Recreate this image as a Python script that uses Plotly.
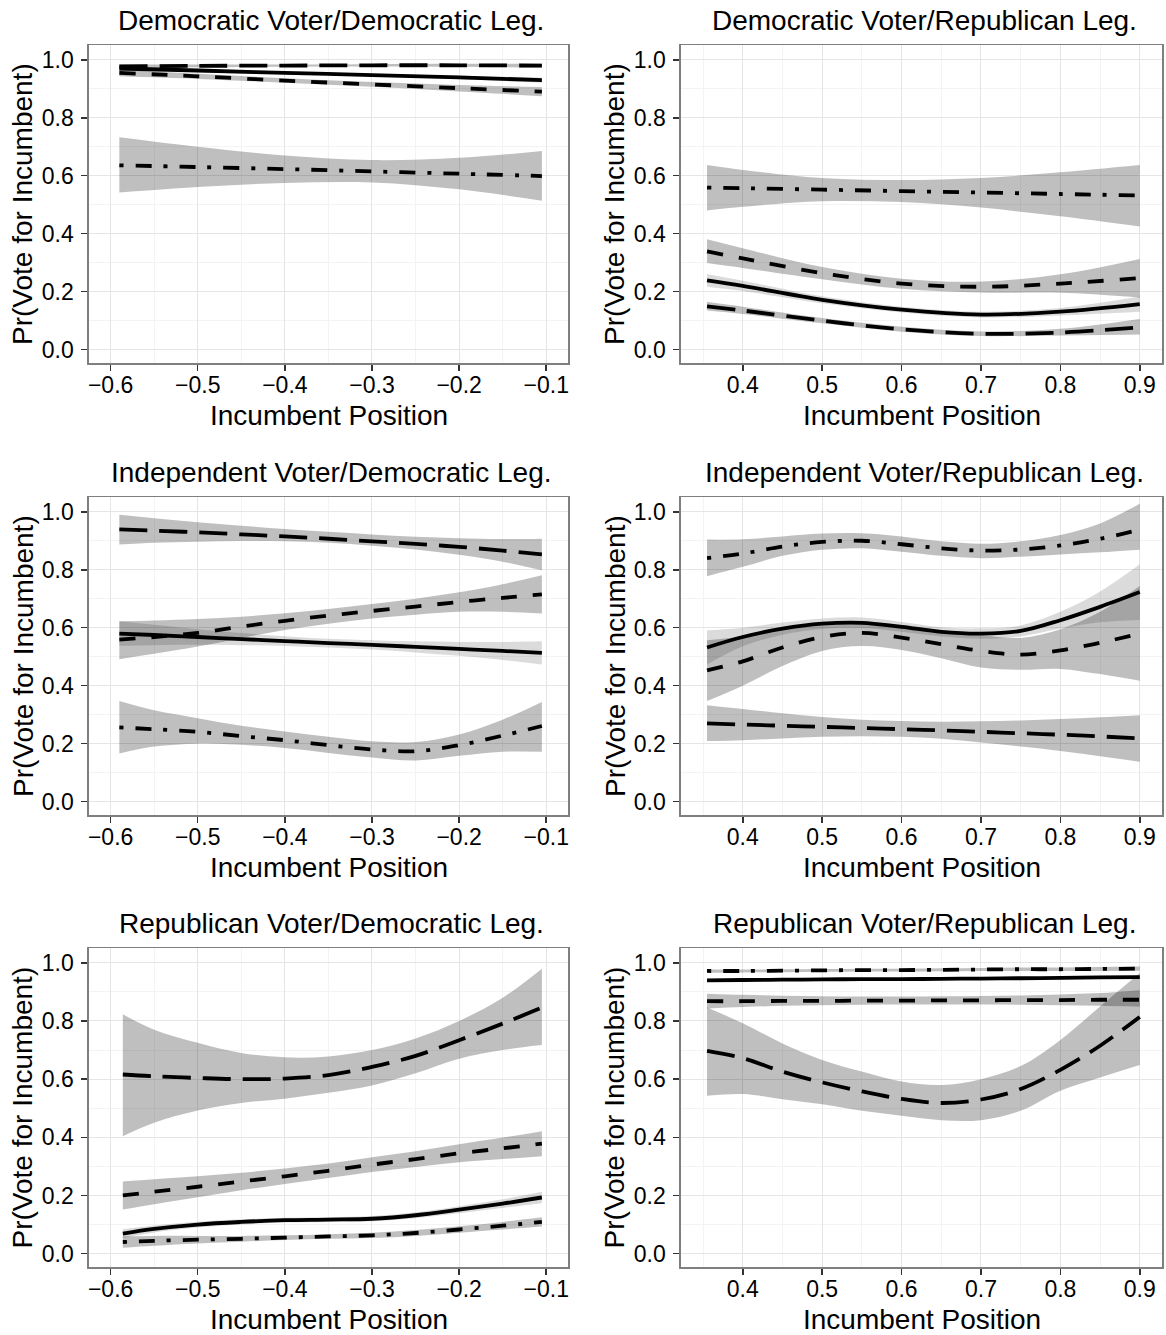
import plotly.graph_objects as go

# ---------------- data ----------------
# Panel 1: Democratic Voter / Democratic Leg.
dd_x = [-0.59, -0.5, -0.4, -0.3, -0.2, -0.105]
dd_solid = [0.970, 0.963, 0.955, 0.947, 0.939, 0.930]
dd_solid_lo = [0.962, 0.957, 0.950, 0.942, 0.933, 0.921]
dd_solid_hi = [0.978, 0.969, 0.960, 0.952, 0.945, 0.939]
dd_dashed = [0.955, 0.943, 0.928, 0.915, 0.902, 0.890]
dd_dashed_lo = [0.943, 0.934, 0.921, 0.907, 0.891, 0.874]
dd_dashed_hi = [0.966, 0.952, 0.936, 0.923, 0.913, 0.906]
dd_long = [0.977, 0.979, 0.980, 0.981, 0.981, 0.980]
dd_long_lo = [0.970, 0.974, 0.976, 0.977, 0.976, 0.973]
dd_long_hi = [0.984, 0.984, 0.984, 0.985, 0.986, 0.987]
dd_dotdash = [0.636, 0.630, 0.623, 0.615, 0.607, 0.599]
dd_dotdash_lo = [0.542, 0.561, 0.575, 0.577, 0.553, 0.514]
dd_dotdash_hi = [0.733, 0.700, 0.670, 0.654, 0.662, 0.685]

# Panel 2: Democratic Voter / Republican Leg.
dr_x = [0.355, 0.4, 0.5, 0.6, 0.7, 0.8, 0.9]
dr_solid = [0.239, 0.220, 0.172, 0.138, 0.121, 0.131, 0.157]
dr_solid_lo = [0.217, 0.202, 0.160, 0.128, 0.111, 0.118, 0.131]
dr_solid_hi = [0.261, 0.238, 0.184, 0.148, 0.131, 0.144, 0.183]
dr_dashed = [0.339, 0.315, 0.264, 0.228, 0.217, 0.228, 0.247]
dr_dashed_lo = [0.299, 0.282, 0.243, 0.210, 0.197, 0.196, 0.180]
dr_dashed_hi = [0.381, 0.350, 0.285, 0.245, 0.235, 0.260, 0.313]
dr_long = [0.149, 0.135, 0.100, 0.070, 0.055, 0.059, 0.077]
dr_long_lo = [0.135, 0.123, 0.091, 0.062, 0.047, 0.049, 0.052]
dr_long_hi = [0.165, 0.148, 0.109, 0.079, 0.063, 0.072, 0.106]
dr_dotdash = [0.559, 0.557, 0.552, 0.547, 0.542, 0.537, 0.532]
dr_dotdash_lo = [0.480, 0.493, 0.512, 0.509, 0.490, 0.460, 0.425]
dr_dotdash_hi = [0.637, 0.620, 0.592, 0.585, 0.592, 0.612, 0.637]

# Panel 3: Independent Voter / Democratic Leg.
id_x = [-0.59, -0.55, -0.5, -0.45, -0.4, -0.35, -0.3, -0.25, -0.2, -0.15, -0.105]
id_solid = [0.580, 0.575, 0.568, 0.561, 0.554, 0.547, 0.541, 0.534, 0.527, 0.520, 0.513]
id_solid_lo = [0.538, 0.540, 0.541, 0.540, 0.537, 0.532, 0.525, 0.515, 0.503, 0.489, 0.473]
id_solid_hi = [0.622, 0.610, 0.595, 0.582, 0.571, 0.562, 0.557, 0.553, 0.551, 0.551, 0.553]
id_dashed = [0.559, 0.568, 0.582, 0.604, 0.624, 0.642, 0.658, 0.673, 0.689, 0.703, 0.715]
id_dashed_lo = [0.491, 0.510, 0.535, 0.565, 0.592, 0.614, 0.632, 0.645, 0.655, 0.655, 0.649]
id_dashed_hi = [0.622, 0.625, 0.630, 0.638, 0.650, 0.665, 0.682, 0.700, 0.722, 0.750, 0.781]
id_long = [0.939, 0.935, 0.929, 0.922, 0.915, 0.907, 0.898, 0.889, 0.879, 0.866, 0.853]
id_long_lo = [0.887, 0.893, 0.897, 0.899, 0.898, 0.893, 0.883, 0.870, 0.852, 0.828, 0.798]
id_long_hi = [0.990, 0.978, 0.964, 0.952, 0.941, 0.931, 0.922, 0.914, 0.909, 0.906, 0.907]
id_dotdash = [0.256, 0.250, 0.241, 0.226, 0.212, 0.195, 0.180, 0.174, 0.195, 0.228, 0.261]
id_dotdash_lo = [0.166, 0.190, 0.200, 0.196, 0.185, 0.168, 0.152, 0.142, 0.158, 0.172, 0.172]
id_dotdash_hi = [0.347, 0.315, 0.288, 0.262, 0.242, 0.224, 0.208, 0.206, 0.232, 0.283, 0.344]

# Panel 4: Independent Voter / Republican Leg.
ir_x = [0.355, 0.4, 0.45, 0.5, 0.55, 0.6, 0.65, 0.7, 0.75, 0.8, 0.85, 0.9]
ir_solid = [0.532, 0.568, 0.597, 0.614, 0.617, 0.603, 0.586, 0.580, 0.589, 0.626, 0.672, 0.723]
ir_solid_lo = [0.473, 0.536, 0.576, 0.596, 0.599, 0.586, 0.570, 0.562, 0.570, 0.597, 0.619, 0.627]
ir_solid_hi = [0.591, 0.600, 0.618, 0.632, 0.635, 0.620, 0.602, 0.598, 0.608, 0.655, 0.725, 0.819]
ir_dashed = [0.453, 0.484, 0.532, 0.568, 0.582, 0.566, 0.543, 0.520, 0.507, 0.522, 0.548, 0.580]
ir_dashed_lo = [0.347, 0.400, 0.468, 0.520, 0.537, 0.523, 0.495, 0.463, 0.455, 0.458, 0.440, 0.417]
ir_dashed_hi = [0.557, 0.570, 0.596, 0.615, 0.620, 0.610, 0.592, 0.575, 0.565, 0.595, 0.655, 0.744]
ir_long = [0.270, 0.266, 0.262, 0.258, 0.254, 0.250, 0.246, 0.241, 0.236, 0.231, 0.225, 0.218]
ir_long_lo = [0.209, 0.212, 0.218, 0.224, 0.226, 0.224, 0.217, 0.204, 0.190, 0.175, 0.157, 0.138]
ir_long_hi = [0.333, 0.320, 0.305, 0.292, 0.283, 0.278, 0.276, 0.277, 0.280, 0.285, 0.291, 0.298]
ir_dotdash = [0.840, 0.856, 0.880, 0.896, 0.900, 0.888, 0.874, 0.866, 0.870, 0.884, 0.907, 0.938]
ir_dotdash_lo = [0.778, 0.810, 0.848, 0.869, 0.874, 0.862, 0.848, 0.840, 0.845, 0.853, 0.860, 0.869]
ir_dotdash_hi = [0.904, 0.905, 0.915, 0.925, 0.926, 0.915, 0.898, 0.890, 0.898, 0.920, 0.960, 1.028]

# Panel 5: Republican Voter / Democratic Leg.
rd_x = [-0.586, -0.55, -0.5, -0.45, -0.4, -0.35, -0.3, -0.25, -0.2, -0.15, -0.105]
rd_solid = [0.069, 0.085, 0.100, 0.109, 0.115, 0.117, 0.120, 0.132, 0.151, 0.172, 0.193]
rd_solid_lo = [0.054, 0.073, 0.090, 0.100, 0.107, 0.109, 0.111, 0.122, 0.139, 0.157, 0.173]
rd_solid_hi = [0.084, 0.097, 0.110, 0.118, 0.123, 0.125, 0.129, 0.142, 0.163, 0.187, 0.213]
rd_dashed = [0.200, 0.213, 0.230, 0.248, 0.266, 0.285, 0.306, 0.325, 0.345, 0.362, 0.378]
rd_dashed_lo = [0.152, 0.170, 0.194, 0.218, 0.239, 0.260, 0.281, 0.298, 0.314, 0.325, 0.335]
rd_dashed_hi = [0.248, 0.256, 0.266, 0.278, 0.293, 0.310, 0.331, 0.352, 0.376, 0.399, 0.421]
rd_long = [0.616, 0.610, 0.604, 0.600, 0.602, 0.614, 0.642, 0.680, 0.734, 0.791, 0.846]
rd_long_lo = [0.404, 0.450, 0.492, 0.518, 0.533, 0.553, 0.578, 0.620, 0.670, 0.700, 0.717]
rd_long_hi = [0.823, 0.770, 0.725, 0.690, 0.675, 0.678, 0.700, 0.740, 0.800, 0.880, 0.980]
rd_dotdash = [0.040, 0.044, 0.048, 0.051, 0.055, 0.059, 0.063, 0.071, 0.083, 0.096, 0.109]
rd_dotdash_lo = [0.020, 0.027, 0.035, 0.041, 0.047, 0.051, 0.054, 0.061, 0.072, 0.083, 0.093]
rd_dotdash_hi = [0.060, 0.061, 0.061, 0.061, 0.063, 0.067, 0.072, 0.081, 0.094, 0.109, 0.125]

# Panel 6: Republican Voter / Republican Leg.
rr_x = [0.355, 0.4, 0.45, 0.5, 0.55, 0.6, 0.65, 0.7, 0.75, 0.8, 0.85, 0.9]
rr_solid = [0.940, 0.941, 0.942, 0.943, 0.944, 0.944, 0.945, 0.946, 0.947, 0.948, 0.950, 0.951]
rr_solid_lo = [0.935, 0.937, 0.938, 0.939, 0.940, 0.940, 0.941, 0.942, 0.942, 0.943, 0.944, 0.945]
rr_solid_hi = [0.945, 0.945, 0.946, 0.947, 0.948, 0.948, 0.949, 0.950, 0.952, 0.953, 0.956, 0.957]
rr_dashed = [0.868, 0.868, 0.869, 0.869, 0.870, 0.870, 0.871, 0.871, 0.872, 0.872, 0.873, 0.873]
rr_dashed_lo = [0.843, 0.848, 0.852, 0.854, 0.856, 0.857, 0.857, 0.857, 0.856, 0.854, 0.852, 0.849]
rr_dashed_hi = [0.894, 0.890, 0.887, 0.885, 0.884, 0.884, 0.885, 0.886, 0.888, 0.891, 0.896, 0.906]
rr_long = [0.697, 0.672, 0.626, 0.589, 0.558, 0.532, 0.518, 0.530, 0.566, 0.632, 0.715, 0.814]
rr_long_lo = [0.543, 0.549, 0.531, 0.514, 0.491, 0.474, 0.459, 0.459, 0.491, 0.560, 0.606, 0.649]
rr_long_hi = [0.846, 0.792, 0.723, 0.666, 0.626, 0.592, 0.580, 0.600, 0.645, 0.735, 0.850, 0.965]
rr_dotdash = [0.972, 0.972, 0.973, 0.974, 0.975, 0.975, 0.976, 0.977, 0.978, 0.978, 0.979, 0.980]
rr_dotdash_lo = [0.966, 0.967, 0.968, 0.969, 0.970, 0.970, 0.971, 0.972, 0.972, 0.972, 0.972, 0.973]
rr_dotdash_hi = [0.978, 0.977, 0.978, 0.979, 0.980, 0.980, 0.981, 0.982, 0.984, 0.984, 0.986, 0.987]

titles = ["Democratic Voter/Democratic Leg.", "Democratic Voter/Republican Leg.",
          "Independent Voter/Democratic Leg.", "Independent Voter/Republican Leg.",
          "Republican Voter/Democratic Leg.", "Republican Voter/Republican Leg."]
x_title = "Incumbent Position"
y_title = "Pr(Vote for Incumbent)"

# ---------------- styling ----------------
W, H = 1166, 1335
FONT = "Liberation Sans, Arial, Helvetica, sans-serif"
STYLES = {
    "solid": dict(dash="solid", fill="rgba(0,0,0,0.14)"),
    "dashed": dict(dash="16px,16px", fill="rgba(0,0,0,0.25)"),
    "longdash": dict(dash="28px,12px", fill="rgba(0,0,0,0.25)"),
    "dotdash": dict(dash="4px,12px,16px,12px", fill="rgba(0,0,0,0.25)"),
}

panels = [
    (dd_x, [("solid", dd_solid, dd_solid_lo, dd_solid_hi), ("dashed", dd_dashed, dd_dashed_lo, dd_dashed_hi),
            ("longdash", dd_long, dd_long_lo, dd_long_hi), ("dotdash", dd_dotdash, dd_dotdash_lo, dd_dotdash_hi)]),
    (dr_x, [("solid", dr_solid, dr_solid_lo, dr_solid_hi), ("dashed", dr_dashed, dr_dashed_lo, dr_dashed_hi),
            ("longdash", dr_long, dr_long_lo, dr_long_hi), ("dotdash", dr_dotdash, dr_dotdash_lo, dr_dotdash_hi)]),
    (id_x, [("solid", id_solid, id_solid_lo, id_solid_hi), ("dashed", id_dashed, id_dashed_lo, id_dashed_hi),
            ("longdash", id_long, id_long_lo, id_long_hi), ("dotdash", id_dotdash, id_dotdash_lo, id_dotdash_hi)]),
    (ir_x, [("solid", ir_solid, ir_solid_lo, ir_solid_hi), ("dashed", ir_dashed, ir_dashed_lo, ir_dashed_hi),
            ("longdash", ir_long, ir_long_lo, ir_long_hi), ("dotdash", ir_dotdash, ir_dotdash_lo, ir_dotdash_hi)]),
    (rd_x, [("solid", rd_solid, rd_solid_lo, rd_solid_hi), ("dashed", rd_dashed, rd_dashed_lo, rd_dashed_hi),
            ("longdash", rd_long, rd_long_lo, rd_long_hi), ("dotdash", rd_dotdash, rd_dotdash_lo, rd_dotdash_hi)]),
    (rr_x, [("solid", rr_solid, rr_solid_lo, rr_solid_hi), ("dashed", rr_dashed, rr_dashed_lo, rr_dashed_hi),
            ("longdash", rr_long, rr_long_lo, rr_long_hi), ("dotdash", rr_dotdash, rr_dotdash_lo, rr_dotdash_hi)]),
]

# pixel layout of the panels
col_px = [(88, 568), (681, 1163)]
row_px = [(45, 363), (497, 815), (948, 1267)]
x_ranges = [[-0.625, -0.075], [0.322, 0.928]]
y_range = [-0.046, 1.051]

fig = go.Figure()
layout = dict(width=W, height=H, margin=dict(l=0, r=0, t=0, b=0),
              paper_bgcolor="white", plot_bgcolor="white", showlegend=False,
              font=dict(family=FONT, color="black"), hovermode=False)
annotations = []

for i, (xs, series) in enumerate(panels):
    n = i + 1
    row, col = i // 2, i % 2
    xa = "x" if n == 1 else f"x{n}"
    ya = "y" if n == 1 else f"y{n}"
    for style, mean, lo, hi in series:
        st = STYLES[style]
        fig.add_trace(go.Scatter(x=xs, y=lo, xaxis=xa, yaxis=ya, mode="lines",
                                 line=dict(width=0, shape="spline", color="rgba(0,0,0,0)"),
                                 hoverinfo="skip", showlegend=False))
        fig.add_trace(go.Scatter(x=xs, y=hi, xaxis=xa, yaxis=ya, mode="lines", fill="tonexty",
                                 fillcolor=st["fill"],
                                 line=dict(width=0, shape="spline", color="rgba(0,0,0,0)"),
                                 hoverinfo="skip", showlegend=False))
        fig.add_trace(go.Scatter(x=xs, y=mean, xaxis=xa, yaxis=ya, mode="lines",
                                 line=dict(width=3.8, color="black", dash=st["dash"], shape="spline"),
                                 showlegend=False))

    x0, x1 = col_px[col]
    y0, y1 = row_px[row]
    xdom = [x0 / W, x1 / W]
    ydom = [1 - y1 / H, 1 - y0 / H]
    common = dict(showgrid=True, gridcolor="#e5e5e5", gridwidth=1,
                  showline=True, mirror=True, linecolor="#7f7f7f", linewidth=1.5,
                  ticks="outside", ticklen=6, tickwidth=1.5, tickcolor="#333333",
                  tickfont=dict(family=FONT, size=23, color="black"),
                  zeroline=False, fixedrange=True)
    layout["xaxis" if n == 1 else f"xaxis{n}"] = dict(
        domain=xdom, range=x_ranges[col], anchor=ya, tick0=0, dtick=0.1,
        ticklabelstandoff=-5,
        minor=dict(dtick=0.05, showgrid=True, gridcolor="#f3f3f3", gridwidth=1, ticks=""),
        **common)
    layout["yaxis" if n == 1 else f"yaxis{n}"] = dict(
        domain=ydom, range=y_range, anchor=xa, tick0=0, dtick=0.2, tickformat=".1f",
        ticklabelstandoff=3,
        minor=dict(dtick=0.1, showgrid=True, gridcolor="#f3f3f3", gridwidth=1, ticks=""),
        **common)

    cx = (x0 + x1) / 2
    cy = (y0 + y1) / 2
    annotations.append(dict(text=titles[i], x=(cx + 3) / W, y=1 - (y0 - 25) / H, xref="paper", yref="paper",
                            xanchor="center", yanchor="middle", showarrow=False,
                            font=dict(family=FONT, size=28, color="black")))
    annotations.append(dict(text=x_title, x=(cx + 1) / W, y=1 - (y1 + 52) / H, xref="paper", yref="paper",
                            xanchor="center", yanchor="middle", showarrow=False,
                            font=dict(family=FONT, size=28, color="black")))
    annotations.append(dict(text=y_title, x=(x0 - 66) / W, y=1 - cy / H, xref="paper", yref="paper",
                            xanchor="center", yanchor="middle", showarrow=False, textangle=-90,
                            font=dict(family=FONT, size=28, color="black")))

layout["annotations"] = annotations
fig.update_layout(**layout)
fig.write_html("out.html", config={"displayModeBar": False, "staticPlot": True},
               post_script="document.body.style.margin='0px';document.body.style.padding='0px';")
